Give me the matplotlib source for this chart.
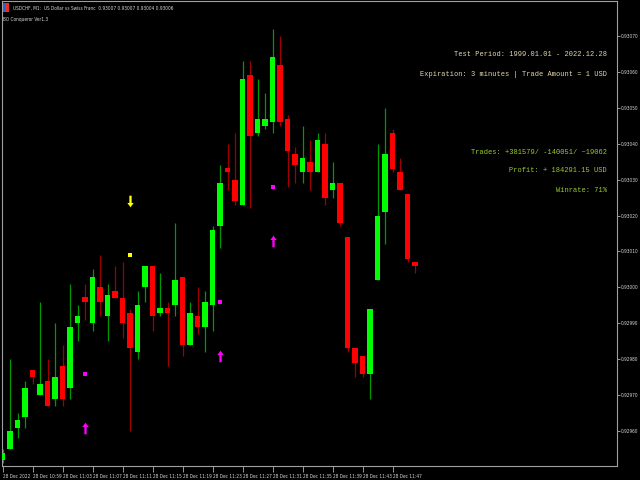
import matplotlib
matplotlib.use("Agg")
import matplotlib.pyplot as plt
from matplotlib.path import Path
from matplotlib.patches import Rectangle

# ---------------- data (USDCHF M1, 28 Dec 2022) ----------------
opens = [0.92952, 0.92955, 0.92961, 0.92964, 0.92977, 0.92970, 0.92974, 0.92969, 0.92978, 0.92972,
         0.92990, 0.92997, 0.92990, 0.93000, 0.92992, 0.92999, 0.92997, 0.92993, 0.92982, 0.93000,
         0.93006, 0.92993, 0.92994, 0.92995, 0.93003, 0.92984, 0.92992, 0.92989, 0.92995, 0.93017,
         0.93033, 0.93030, 0.93023, 0.93059, 0.93043, 0.93045, 0.93046, 0.93062, 0.93047, 0.93037,
         0.93032, 0.93035, 0.93032, 0.93040, 0.93027, 0.93029, 0.93014, 0.92983, 0.92981, 0.92976,
         0.93002, 0.93021, 0.93043, 0.93032, 0.93026, 0.93007]
highs = [0.92955, 0.92980, 0.92965, 0.92974, 0.92977, 0.92996, 0.92980, 0.92990, 0.92984, 0.93001,
         0.92995, 0.93001, 0.93005, 0.93009, 0.93001, 0.93006, 0.93007, 0.92994, 0.92999, 0.93006,
         0.93006, 0.93004, 0.92996, 0.93018, 0.93003, 0.92996, 0.93000, 0.92999, 0.93017, 0.93034,
         0.93040, 0.93043, 0.93063, 0.93063, 0.93058, 0.93054, 0.93072, 0.93070, 0.93048, 0.93039,
         0.93045, 0.93041, 0.93043, 0.93043, 0.93035, 0.93029, 0.93014, 0.92983, 0.92981, 0.92994,
         0.93040, 0.93050, 0.93044, 0.93036, 0.93026, 0.93007]
lows = [0.92951, 0.92955, 0.92958, 0.92961, 0.92973, 0.92970, 0.92967, 0.92967, 0.92967, 0.92969,
        0.92985, 0.92991, 0.92988, 0.92992, 0.92985, 0.92997, 0.92986, 0.92960, 0.92980, 0.92996,
        0.92988, 0.92992, 0.92978, 0.92992, 0.92981, 0.92984, 0.92987, 0.92982, 0.92988, 0.93011,
        0.93027, 0.93023, 0.93023, 0.93022, 0.93042, 0.93044, 0.93043, 0.93045, 0.93028, 0.93029,
        0.93029, 0.93027, 0.93032, 0.93023, 0.93025, 0.93017, 0.92982, 0.92975, 0.92975, 0.92969,
        0.93002, 0.93012, 0.93032, 0.93027, 0.93007, 0.93004]
closes = [0.92954, 0.92960, 0.92963, 0.92972, 0.92975, 0.92973, 0.92967, 0.92975, 0.92969, 0.92989,
          0.92992, 0.92996, 0.93003, 0.92996, 0.92998, 0.92997, 0.92990, 0.92983, 0.92995, 0.93006,
          0.92992, 0.92994, 0.92993, 0.93002, 0.92984, 0.92993, 0.92989, 0.92996, 0.93016, 0.93029,
          0.93032, 0.93024, 0.93058, 0.93042, 0.93047, 0.93047, 0.93064, 0.93046, 0.93038, 0.93034,
          0.93036, 0.93032, 0.93041, 0.93025, 0.93029, 0.93018, 0.92983, 0.92979, 0.92976, 0.92994,
          0.93020, 0.93037, 0.93033, 0.93027, 0.93008, 0.93006]

# signal markers: (bar index, price)
up_arrow_bars = [11, 29, 36]
up_arrow_prices = [0.92961, 0.92981, 0.93013]
up_dot_prices = [0.92976, 0.92996, 0.93028]
down_arrow_bars = [17]
down_arrow_prices = [0.93024]
down_dot_prices = [0.93009]

x_tick_bars = [0, 4, 8, 12, 16, 20, 24, 28, 32, 36, 40, 44, 48, 52]
x_tick_labels = ["28 Dec 2022", "28 Dec 10:59", "28 Dec 11:03", "28 Dec 11:07", "28 Dec 11:11",
                 "28 Dec 11:15", "28 Dec 11:19", "28 Dec 11:23", "28 Dec 11:27", "28 Dec 11:31",
                 "28 Dec 11:35", "28 Dec 11:39", "28 Dec 11:43", "28 Dec 11:47"]
y_ticks = [0.92960, 0.92970, 0.92980, 0.92990, 0.93000, 0.93010, 0.93020,
           0.93030, 0.93040, 0.93050, 0.93060, 0.93070]
y_tick_labels = ["0.92960", "0.92970", "0.92980", "0.92990", "0.93000", "0.93010", "0.93020",
                 "0.93030", "0.93040", "0.93050", "0.93060", "0.93070"]

title_text = "USDCHF, M1:  US Dollar vs Swiss Franc  0.93007 0.93007 0.93004 0.93006"
sub_text = "BO Conqueror Ver1.3"
info_lines = ["Test Period: 1999.01.01 - 2022.12.28",
              "Expiration: 3 minutes | Trade Amount = 1 USD"]
stat_lines = ["Trades: +381579/ -140051/ ~19062",
              "Profit: + 184291.15 USD",
              "Winrate: 71%"]

# ---------------- figure ----------------
W, H = 640, 480
fig = plt.figure(figsize=(6.4, 4.8), dpi=100, facecolor="black")
ax = fig.add_axes([2 / W, 14 / H, 615 / W, 465 / H], facecolor="black")

bull_body, bear_body = "#00ff00", "#ff0000"
bull_wick, bear_wick = "#009900", "#a00000"
bw = 0.72
for i, (o, h, l, c) in enumerate(zip(opens, highs, lows, closes)):
    up = c >= o
    ax.vlines(i, l, h, color=bull_wick if up else bear_wick, linewidth=0.9, zorder=2)
    lo, hi = min(o, c), max(o, c)
    ax.add_patch(Rectangle((i - bw / 2, lo), bw, max(hi - lo, 0.000012),
                           facecolor=bull_body if up else bear_body, edgecolor="none", zorder=3))

up_arrow = Path([(0, 1), (0.55, 0.25), (0.2, 0.25), (0.2, -1), (-0.2, -1), (-0.2, 0.25),
                 (-0.55, 0.25), (0, 1)],
                [Path.MOVETO] + [Path.LINETO] * 6 + [Path.CLOSEPOLY])
down_arrow = Path([(x, -y) for x, y in up_arrow.vertices], up_arrow.codes)

ax.scatter(up_arrow_bars, up_arrow_prices, marker=up_arrow, s=70, color="#ff00ff", zorder=4, linewidths=0)
ax.scatter(up_arrow_bars, up_dot_prices, marker="s", s=5, color="#ff00ff", zorder=4, linewidths=0)
ax.scatter(down_arrow_bars, down_arrow_prices, marker=down_arrow, s=70, color="#ffff00", zorder=4, linewidths=0)
ax.scatter(down_arrow_bars, down_dot_prices, marker="s", s=5, color="#ffff00", zorder=4, linewidths=0)

ax.set_xlim(-0.07, 81.93)
ax.set_ylim(0.929503, 0.930797)

small = dict(family="DejaVu Sans", stretch="condensed", fontsize=3.4, color="#d8d8d8")
ax.yaxis.tick_right()
ax.set_yticks(y_ticks)
ax.set_yticklabels(y_tick_labels, **small)
ax.set_xticks(x_tick_bars)
ax.set_xticklabels(x_tick_labels, ha="left", **small)
ax.tick_params(axis="y", length=2, width=0.6, color="#b0b0b0", pad=1)
ax.tick_params(axis="x", length=4, width=0.6, color="#b0b0b0", pad=1.5)
for s in ax.spines.values():
    s.set_color("#a0a0a0")
    s.set_linewidth(0.8)

# header texts
fig.patches.append(Rectangle((3 / W, 1 - 12 / H), 3 / W, 9 / H, transform=fig.transFigure,
                             facecolor="#3060d0", edgecolor="none"))
fig.patches.append(Rectangle((6 / W, 1 - 12 / H), 3 / W, 9 / H, transform=fig.transFigure,
                             facecolor="#e03030", edgecolor="none"))
fig.text(13 / W, 1 - 8 / H, title_text, ha="left", va="center", **small)
fig.text(3 / W, 1 - 20 / H, sub_text, ha="left", va="center", **small)

mono = ["Liberation Mono", "DejaVu Sans Mono"]
for txt, yp in zip(info_lines, [55, 75]):
    fig.text(607 / W, 1 - yp / H, txt, fontsize=5.0, color="#e6d7b0", family=mono,
             ha="right", va="center")
for txt, yp in zip(stat_lines, [152, 171, 191]):
    fig.text(607 / W, 1 - yp / H, txt, fontsize=5.0, color="#9acd32", family=mono,
             ha="right", va="center")

fig.savefig("out.png", dpi=100, facecolor="black")
